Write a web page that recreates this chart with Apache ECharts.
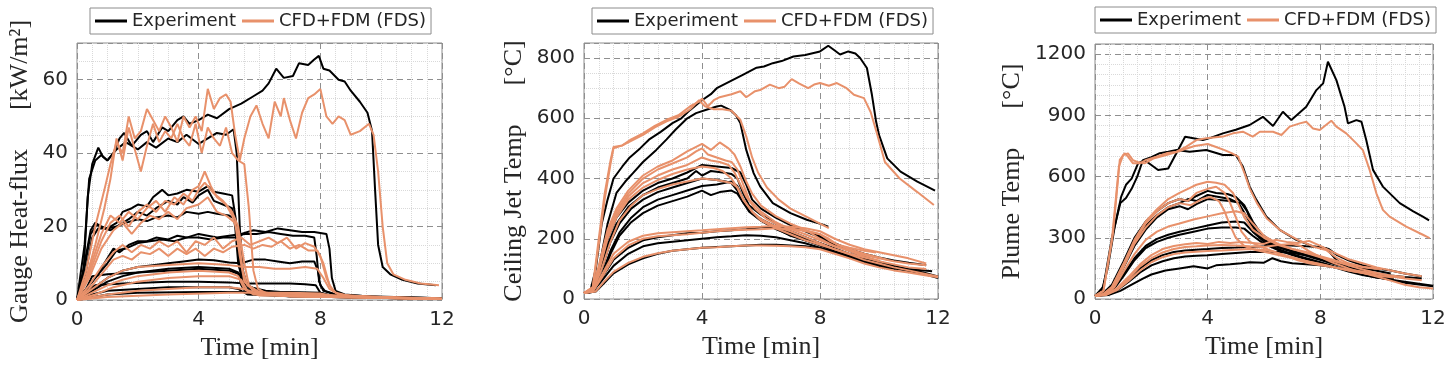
<!DOCTYPE html>
<html><head><meta charset="utf-8">
<script src="https://cdn.jsdelivr.net/npm/echarts@6/dist/echarts.min.js"></script>
<style>html,body{margin:0;padding:0;background:#fff}#c{width:1453px;height:370px}</style>
</head><body><div id="c"></div>
<script>
// ---------- tick labels ----------
const timeTicks = [0, 4, 8, 12];
const heatFluxTicks = [0, 20, 40, 60];
const ceilingTicks = [0, 200, 400, 600, 800];
const plumeTicks = [0, 300, 600, 900, 1200];
const seriesNames = ['Experiment', 'CFD+FDM (FDS)'];

// ---------- Panel 1: Gauge heat flux [kW/m2] vs time [min] ----------
const heatFluxExp = [
 [[0,0],[0.2,5],[0.35,28],[0.5,37],[0.7,41.5],[0.85,39],[1.0,38],[1.2,40],[1.4,44],[1.55,45.5],[1.8,42],[2.1,45],[2.3,46],[2.5,43],[2.8,47],[3.0,46],[3.3,49],[3.5,50],[3.7,48],[4.0,49],[4.3,50.5],[4.6,49.5],[5.0,52],[5.4,53.5],[5.8,55.5],[6.1,57],[6.3,59],[6.55,63],[6.8,60.5],[7.1,61],[7.3,64.5],[7.6,64],[7.8,65.5],[7.95,66.5],[8.1,63],[8.3,62.5],[8.6,60],[8.8,59.5],[9.0,57],[9.3,54],[9.55,51],[9.7,46],[9.8,30],[9.9,15],[10.05,9],[10.3,7],[10.7,5.5],[11.2,4.5],[11.8,4]],
 [[0,0],[0.25,15],[0.4,33],[0.6,38],[0.8,39.5],[1.0,38],[1.3,41],[1.6,43],[2.0,41],[2.3,43],[2.6,41.5],[3.0,44],[3.3,43],[3.6,45],[4.0,42.5],[4.3,44],[4.6,45.5],[4.9,45],[5.15,46.5],[5.25,40],[5.35,20],[5.45,8],[5.6,4],[6.0,2.5],[7,1.8],[8,1.2],[9,0.8],[12,0.4]],
 [[0,0],[0.25,10],[0.45,19],[0.6,21],[0.8,20],[1.0,19.5],[1.3,21],[1.5,24],[1.8,25],[2.0,26],[2.3,25.5],[2.5,28],[2.8,30],[3.0,28.5],[3.3,29],[3.6,30],[4.0,29.5],[4.3,31],[4.5,29.5],[4.8,29],[5.1,28.5],[5.22,22],[5.32,10],[5.45,5],[5.7,3],[6.2,2],[7,1.5],[8,1],[10,0.6],[12,0.3]],
 [[0,0],[0.25,9],[0.45,18],[0.65,20.5],[0.9,19.5],[1.1,19],[1.4,20.5],[1.7,22],[2.0,24],[2.3,23],[2.6,25],[3.0,27],[3.3,26],[3.5,28],[3.8,26.5],[4.0,28.5],[4.3,30],[4.5,27],[4.8,26],[5.1,25],[5.2,20],[5.3,10],[5.45,5],[5.7,3],[6.5,2],[8,1],[12,0.3]],
 [[0,0],[0.3,8],[0.5,17],[0.7,19.5],[1.0,19.5],[1.3,20],[1.6,21],[2.0,22],[2.3,21.5],[2.6,22.5],[3.0,23],[3.3,22.5],[3.6,24],[4.0,23.5],[4.3,24],[4.6,23.5],[5.0,23],[5.2,22],[5.32,12],[5.45,6],[5.7,3.5],[6.2,2.5],[7,2],[8.5,1],[12,0.3]],
 [[0,0],[0.3,3],[0.6,6],[0.9,10],[1.2,14],[1.4,13],[1.7,15],[2.0,16],[2.3,16],[2.6,17],[3.0,16.5],[3.3,17.5],[3.6,17],[4.0,18],[4.3,17.5],[4.6,17],[5.0,17.5],[5.4,18],[5.8,19],[6.2,18.5],[6.6,19.5],[7.0,19],[7.4,18.5],[7.8,18.5],[8.2,18],[8.3,14],[8.38,6],[8.5,2.5],[8.8,1.5],[9.5,1],[12,0.5]],
 [[0,0],[0.5,5],[1.0,10],[1.3,13.5],[1.6,14],[2.0,15.5],[2.4,16],[2.8,16.5],[3.2,16],[3.6,17],[4.0,17],[4.4,16.5],[4.8,17],[5.2,17],[5.5,18],[5.9,18],[6.3,18.5],[6.7,18],[7.1,17.5],[7.5,17.5],[7.8,17],[7.88,12],[7.96,5],[8.1,2.5],[8.5,1.5],[9.5,0.8],[12,0.4]],
 [[0,0],[0.5,3],[1.0,6],[1.5,8],[2.0,9],[2.5,9.5],[3.0,10],[3.5,10.5],[4.0,11],[4.5,10.8],[5.0,10.2],[5.4,10],[5.8,11],[6.2,11],[6.6,10.5],[7.0,10],[7.4,10.5],[7.8,10.5],[7.92,8],[8.0,4],[8.15,2.5],[8.5,1.5],[10,0.8],[12,0.5]],
 [[0,0],[0.5,2.5],[1.0,5],[1.5,6.5],[2.0,7.5],[3.0,8.5],[4.0,9],[5.0,8.5],[5.3,7.5],[5.4,4],[5.55,2],[6,1.5],[7,1],[12,0.3]],
 [[0,0],[0.3,3],[0.5,6.5],[1.0,7],[2.0,7.5],[3.0,8],[4.0,8.5],[5.0,8],[5.35,7],[5.5,3.5],[5.8,1.8],[7,1],[12,0.3]],
 [[0,0],[0.3,2.5],[0.6,4],[1.5,4.5],[3,5],[4,5],[5,4.8],[5.5,4.5],[6,4.5],[7,4.5],[7.5,4.3],[7.85,4],[8.0,2],[8.4,1],[12,0.5]],
 [[0,0],[0.5,1.5],[1,2.5],[2,3],[3,3.5],[4,3.5],[5,3.5],[5.3,3],[5.6,1.5],[7,1],[12,0.3]],
 [[0,0],[1,1.5],[2,2],[4,2.2],[6,2.2],[7,2.2],[8,2],[8.4,1],[9,0.7],[12,0.4]]
];
const heatFluxCfd = [
 [[0,0],[0.3,8],[0.6,20],[0.9,30],[1.1,37],[1.3,43],[1.5,40],[1.7,50],[1.9,44],[2.1,46],[2.3,52],[2.5,49],[2.7,46],[2.9,50],[3.1,47],[3.3,43],[3.5,50],[3.7,47],[3.9,50],[4.1,46],[4.3,57.5],[4.5,52],[4.7,55],[4.9,56],[5.05,54],[5.2,45],[5.35,38],[5.5,44],[5.7,50],[5.9,53],[6.1,48],[6.3,44],[6.5,54],[6.7,50],[6.8,55],[7.0,49],[7.2,44],[7.4,51],[7.6,55],[7.8,56],[8.0,57.5],[8.2,50],[8.4,48],[8.6,50],[8.8,49],[9.0,45],[9.3,46],[9.6,48],[9.75,45],[9.9,35],[10.05,20],[10.2,10],[10.4,7],[10.8,5.5],[11.3,4.5],[11.9,4]],
 [[0,0],[0.3,6],[0.6,15],[0.9,25],[1.1,33],[1.3,44],[1.5,38],[1.7,47],[1.9,41],[2.1,35],[2.3,42],[2.5,48],[2.7,43],[2.9,46],[3.1,44],[3.3,48],[3.5,44],[3.7,42],[3.9,48],[4.1,40],[4.3,47],[4.5,44],[4.7,42],[4.9,47],[5.1,40],[5.3,38],[5.5,37],[5.65,25],[5.8,8],[5.95,3],[6.3,1.5],[7,1],[12,0.3]],
 [[0,0],[0.4,8],[0.8,18],[1.1,23],[1.4,21],[1.7,24],[2.0,22],[2.3,25],[2.6,27],[2.9,24],[3.2,28],[3.5,26],[3.8,30],[4.0,31],[4.2,35],[4.4,31],[4.6,28],[4.9,26],[5.1,23],[5.3,18],[5.45,8],[5.6,4],[6,2],[7,1],[12,0.3]],
 [[0,0],[0.4,7],[0.8,16],[1.1,21],[1.4,23],[1.7,20],[2.0,24],[2.3,26],[2.6,24],[2.9,27],[3.2,26],[3.5,29],[3.8,27],[4.0,30],[4.2,32],[4.5,29],[4.8,27],[5.1,24],[5.3,20],[5.5,10],[5.65,4],[6,2],[12,0.3]],
 [[0,0],[0.4,6],[0.8,14],[1.2,19],[1.5,21],[1.8,18],[2.1,21],[2.4,23],[2.7,22],[3.0,24],[3.3,22],[3.6,25],[4.0,26],[4.3,28],[4.6,24],[4.9,23],[5.2,21],[5.35,12],[5.5,5],[5.8,2.5],[7,1],[12,0.3]],
 [[0,0],[0.4,4],[0.8,9],[1.2,13],[1.5,15],[1.8,13],[2.1,15],[2.4,14],[2.7,16],[3.0,14.5],[3.3,16],[3.6,13],[3.9,16],[4.2,15],[4.5,17],[4.8,14],[5.1,16],[5.4,17],[5.7,15],[6.0,16],[6.3,17],[6.6,15.5],[6.9,17],[7.2,14],[7.5,15.5],[7.8,14.5],[8.0,12],[8.2,6],[8.4,2.5],[8.7,1.2],[10,0.7],[12,0.4]],
 [[0,0],[0.4,3],[0.8,7],[1.2,11],[1.5,12],[1.8,11],[2.1,13],[2.4,12.5],[2.7,14],[3.0,12],[3.3,14],[3.6,12.5],[3.9,14],[4.2,12],[4.5,14],[4.8,13],[5.1,14.5],[5.5,15],[5.8,14],[6.1,15],[6.4,14.5],[6.7,16],[7.0,14],[7.3,15],[7.6,13.5],[7.9,13.5],[8.1,10],[8.3,4],[8.5,2],[9,1],[12,0.4]],
 [[0,0],[0.5,3],[1,6],[1.5,8],[2,9],[3,9.5],[4,10],[5,9.5],[5.5,9],[6,9],[6.5,8.5],[7,8.5],[7.5,9],[7.9,8.5],[8.1,6],[8.3,3],[8.6,1.5],[10,0.6],[12,0.3]],
 [[0,0],[0.5,2],[1,4],[1.5,5.5],[2,6.5],[3,7.5],[4,8],[5,7.5],[5.3,6.5],[5.5,3],[5.8,1.5],[12,0.3]],
 [[0,0],[0.6,1.5],[1.2,3.5],[2,5],[3,6],[4,6.5],[5,6.5],[5.4,5.5],[5.6,2.5],[6,1.2],[12,0.3]],
 [[0,0],[1,1.5],[2,2.5],[3,3],[4,3.5],[5,3.5],[5.5,3],[6,1.5],[12,0.3]],
 [[0,0],[1,0.8],[3,1.5],[5,2],[7,2],[8,1.8],[8.5,1],[12,0.3]]
];

// ---------- Panel 2: Ceiling jet temperature [°C] ----------
const ceilingExp = [
 [[0,20],[0.2,22],[0.4,100],[0.6,250],[0.8,330],[1.0,400],[1.3,440],[1.55,470],[1.9,500],[2.2,529],[2.6,555],[3.0,584],[3.3,600],[3.6,628],[4.0,660],[4.3,680],[4.5,700],[5.0,725],[5.4,745],[5.85,768],[6.1,772],[6.4,783],[6.7,790],[7.1,805],[7.5,810],[8.0,822],[8.28,841],[8.5,825],[8.68,812],[8.96,822],[9.2,815],[9.36,800],[9.59,767],[9.76,678],[9.9,590],[10.0,545],[10.28,467],[10.73,423],[11.3,390],[11.9,360]],
 [[0,20],[0.25,22],[0.5,100],[0.8,250],[1.1,352],[1.4,390],[1.66,418],[2.0,455],[2.45,495],[2.8,530],[3.1,562],[3.5,600],[3.8,617],[4.2,630],[4.5,639],[4.65,642],[4.95,628],[5.15,610],[5.3,584],[5.5,495],[5.75,418],[5.97,374],[6.4,318],[7.0,285],[7.55,263],[8.1,247],[8.28,240]],
 [[0,20],[0.3,30],[0.5,90],[0.8,200],[1.1,270],[1.5,320],[2.0,360],[2.5,385],[3.0,400],[3.5,420],[4.0,445],[4.5,440],[5.0,435],[5.3,420],[5.5,380],[5.7,330],[6.0,300],[6.5,270],[7.0,245],[7.5,225],[8.0,205],[8.5,180],[9.0,160],[9.5,140],[10.0,125],[10.5,110],[11,98],[11.5,88],[12,75]],
 [[0,20],[0.3,30],[0.5,80],[0.8,180],[1.1,250],[1.5,305],[2.0,345],[2.5,370],[3.0,385],[3.5,400],[3.8,425],[4.0,410],[4.3,425],[4.7,420],[5.0,415],[5.2,400],[5.4,350],[5.6,310],[6.0,280],[6.5,250],[7.0,225],[7.5,205],[8.0,185],[8.5,165],[9.0,145],[9.5,128],[10.0,115],[10.6,100]],
 [[0,20],[0.3,28],[0.6,100],[0.9,190],[1.2,250],[1.6,300],[2.0,330],[2.5,355],[3.0,370],[3.5,385],[4.0,400],[4.5,395],[4.8,390],[5.0,385],[5.2,360],[5.4,320],[5.7,285],[6.0,260],[6.5,235],[7.0,210],[7.5,195],[8.0,180],[8.5,160],[9.0,140],[9.5,125],[10.0,110],[10.55,100]],
 [[0,20],[0.3,25],[0.6,80],[0.9,160],[1.2,220],[1.6,270],[2.0,305],[2.5,330],[3.0,345],[3.5,360],[4.0,375],[4.5,380],[5.0,390],[5.2,375],[5.4,330],[5.6,295],[6.0,265],[6.5,240],[7.0,220],[7.5,200],[8.0,185],[8.5,168],[9.0,150],[9.5,135],[10.0,120],[10.5,108],[11,100],[11.8,92]],
 [[0,20],[0.3,25],[0.6,70],[0.9,150],[1.2,210],[1.6,255],[2.0,285],[2.5,310],[3.0,325],[3.5,340],[4.0,360],[4.3,345],[4.6,355],[5.0,360],[5.2,350],[5.4,320],[5.6,290],[6.0,260],[6.5,232],[7.0,212],[7.5,195],[8.0,178],[8.5,160],[9.0,140],[9.5,120],[10,108],[10.6,100]],
 [[0,20],[0.3,25],[0.6,60],[1.0,110],[1.5,150],[2.0,175],[2.5,185],[3.0,190],[3.5,195],[4.0,200],[4.5,205],[5.0,208],[5.5,212],[6.0,210],[6.5,205],[7.0,195],[7.5,185],[8.0,170],[8.5,155],[9.0,140],[9.5,125],[10.0,112],[10.5,102],[11,93],[11.5,84],[12,70]],
 [[0,20],[0.4,25],[0.7,55],[1.0,85],[1.5,115],[2.0,135],[2.5,150],[3.0,160],[3.5,165],[4.0,170],[4.5,173],[5.0,175],[5.5,178],[6.0,180],[6.5,180],[7.0,178],[7.5,175],[8.0,168],[8.5,158],[9.0,145],[9.5,130],[10.0,118],[10.5,105]],
 [[0,20],[0.3,25],[0.6,70],[1.0,130],[1.5,170],[2.0,195],[2.5,205],[3.0,212],[3.5,218],[4.0,220],[4.5,225],[5.0,228],[5.5,232],[6.0,238],[6.5,240],[7.0,235],[7.5,228],[8.0,210],[8.5,185],[9.0,165],[9.5,150],[10.0,138],[10.5,128],[11.0,120],[11.6,112]]
];
const ceilingCfd = [
 [[0,20],[0.3,40],[0.5,200],[0.7,350],[0.9,460],[1.0,505],[1.3,510],[1.6,530],[2.0,550],[2.4,575],[2.8,595],[3.2,610],[3.6,640],[3.9,655],[4.0,665],[4.2,640],[4.4,660],[4.6,670],[5.0,680],[5.3,690],[5.5,670],[5.8,690],[6.0,695],[6.3,712],[6.6,700],[6.8,705],[7.04,730],[7.3,715],[7.6,700],[7.8,712],[8.0,717],[8.3,708],[8.57,717],[8.9,700],[9.15,678],[9.49,667],[9.72,620],[9.95,543],[10.2,455],[10.7,400],[11.3,355],[11.86,312]],
 [[0,20],[0.3,40],[0.5,180],[0.7,330],[0.9,450],[1.0,500],[1.3,510],[1.6,525],[2.0,545],[2.4,570],[2.8,590],[3.2,605],[3.6,630],[3.9,660],[4.1,640],[4.4,630],[4.7,630],[5.0,625],[5.3,595],[5.5,540],[5.7,470],[5.9,420],[6.2,370],[6.6,330],[7.0,300],[7.5,275],[8.0,250],[8.3,235]],
 [[0,20],[0.3,35],[0.5,110],[0.8,230],[1.1,300],[1.5,360],[2.0,410],[2.5,440],[3.0,460],[3.5,490],[4.0,515],[4.3,495],[4.6,520],[4.9,500],[5.1,480],[5.3,440],[5.5,390],[5.7,350],[6.0,310],[6.5,275],[7.0,250],[7.5,230],[8.0,200],[8.5,175],[9.0,160],[9.5,140],[10.0,125],[10.5,115],[11.0,105],[11.6,100]],
 [[0,20],[0.3,32],[0.5,100],[0.8,220],[1.1,290],[1.5,350],[2.0,400],[2.5,430],[3.0,450],[3.5,470],[3.8,490],[4.0,500],[4.2,480],[4.5,470],[4.8,460],[5.0,455],[5.2,430],[5.4,380],[5.6,330],[6.0,290],[6.5,255],[7.0,232],[7.5,215],[8.0,195],[8.5,175],[9.0,160],[9.5,145],[10.0,135],[10.5,125],[11.0,118],[11.6,112]],
 [[0,20],[0.3,30],[0.5,95],[0.8,210],[1.1,280],[1.5,340],[2.0,385],[2.5,410],[3.0,430],[3.5,445],[4.0,470],[4.3,460],[4.6,455],[4.9,445],[5.1,420],[5.3,380],[5.5,340],[5.8,300],[6.2,265],[6.6,245],[7.0,235],[7.5,225],[7.8,220],[8.0,215],[8.3,195],[8.6,180],[9.0,170],[9.5,160],[9.9,154]],
 [[0,20],[0.3,30],[0.5,90],[0.8,200],[1.1,270],[1.5,330],[2.0,370],[2.5,395],[3.0,415],[3.5,430],[4.0,440],[4.4,435],[4.7,425],[5.0,400],[5.2,370],[5.4,330],[5.7,290],[6.0,265],[6.5,240],[7.0,225],[7.5,205],[8.0,185],[8.5,165],[9.0,148],[9.5,130],[10.0,118],[10.5,105],[11,95],[11.5,85],[12,75]],
 [[0,20],[0.3,28],[0.6,100],[0.9,190],[1.2,260],[1.6,310],[2.0,345],[2.5,365],[3.0,380],[3.5,390],[4.0,400],[4.5,395],[5.0,385],[5.2,370],[5.4,330],[5.7,290],[6.0,260],[6.5,235],[7.0,215],[7.5,195],[8.0,180],[8.5,165],[9,150],[9.5,138],[10,128]],
 [[0,20],[0.3,25],[0.6,80],[1.0,150],[1.5,190],[2.0,210],[2.5,218],[3.0,222],[3.5,225],[4.0,228],[4.5,232],[5.0,235],[5.5,238],[6.0,240],[6.5,243],[7.0,240],[7.5,235],[8.0,225],[8.5,200],[9.0,180],[9.5,165],[10.0,155],[10.5,145],[11.0,135],[11.6,118]],
 [[0,20],[0.3,25],[0.6,70],[1.0,135],[1.5,178],[2.0,200],[2.5,208],[3.0,212],[3.5,215],[4.0,220],[4.5,225],[5.0,228],[5.5,230],[6.0,232],[6.5,235],[7.0,232],[7.5,228],[8.0,215],[8.3,200],[8.6,180],[9.0,165],[9.5,150],[10.0,138],[10.3,130]],
 [[0,20],[0.4,25],[0.7,60],[1.0,90],[1.5,120],[2.0,140],[2.5,152],[3.0,160],[3.5,165],[4.0,170],[4.5,172],[5.0,175],[5.5,178],[6.0,178],[6.5,177],[7.0,175],[7.5,172],[8.0,165],[8.5,150],[9.0,135],[9.5,118],[10.0,105],[10.5,95],[11.0,88],[11.5,80],[12,72]]
];

// ---------- Panel 3: Plume temperature [°C] ----------
const plumeExp = [
 [[0,15],[0.22,29],[0.45,150],[0.7,355],[0.93,502],[1.1,560],[1.3,590],[1.53,665],[1.76,681],[2.0,657],[2.24,632],[2.6,640],[2.95,730],[3.2,795],[3.54,787],[3.83,779],[4.1,790],[4.54,812],[5.0,830],[5.49,853],[5.96,893],[6.32,848],[6.67,918],[6.97,877],[7.5,942],[7.86,1024],[8.1,1057],[8.27,1163],[8.57,1073],[8.86,942],[8.98,861],[9.28,877],[9.46,869],[9.63,779],[9.87,633],[10.22,551],[10.82,470],[11.3,430],[11.64,404],[11.86,385]],
 [[0,15],[0.3,60],[0.6,300],[0.9,470],[1.1,495],[1.3,540],[1.5,600],[1.7,680],[2.0,695],[2.3,715],[2.6,722],[2.9,730],[3.36,722],[3.95,730],[4.54,706],[5.0,706],[5.25,649],[5.49,551],[5.73,486],[6.08,404],[6.56,339],[7.15,290],[7.74,258],[8.2,249],[8.57,192],[9.04,143],[9.87,111],[11.05,78],[12,62]],
 [[0,15],[0.3,30],[0.6,70],[1.0,180],[1.4,300],[1.8,380],[2.2,430],[2.6,470],[3.0,490],[3.3,480],[3.6,505],[4.0,530],[4.3,520],[4.7,515],[5.0,500],[5.3,460],[5.6,380],[5.9,320],[6.3,280],[6.8,245],[7.3,225],[7.8,205],[8.3,180],[8.8,160],[9.3,140],[9.8,125],[10.6,100]],
 [[0,15],[0.3,25],[0.6,60],[1.0,160],[1.4,280],[1.8,360],[2.2,410],[2.6,450],[3.0,470],[3.3,490],[3.6,480],[4.0,510],[4.4,500],[4.8,490],[5.1,470],[5.4,400],[5.7,330],[6.0,290],[6.5,255],[7.0,235],[7.5,215],[8.0,195],[8.5,175],[9.0,155],[9.5,140],[10.0,125],[10.5,115],[11.0,108],[11.6,100]],
 [[0,15],[0.3,25],[0.6,55],[1.0,150],[1.4,260],[1.8,340],[2.2,400],[2.6,440],[3.0,455],[3.3,440],[3.6,465],[4.0,490],[4.4,485],[4.8,480],[5.2,470],[5.4,430],[5.6,360],[5.9,300],[6.3,265],[6.8,240],[7.3,220],[7.8,200],[8.3,180],[8.8,160],[9.3,140],[9.8,125],[10.2,115]],
 [[0,15],[0.4,25],[0.7,60],[1.0,120],[1.4,200],[1.8,260],[2.2,295],[2.6,315],[3.0,330],[3.5,345],[4.0,360],[4.5,375],[5.0,380],[5.3,375],[5.6,330],[6.0,280],[6.5,245],[7.0,220],[7.5,200],[8.0,180],[8.5,160],[9.0,140],[9.5,120],[10,105],[10.5,95],[11,85],[11.5,75],[12,65]],
 [[0,15],[0.4,25],[0.7,55],[1.0,110],[1.4,190],[1.8,250],[2.2,280],[2.6,300],[3.0,315],[3.5,330],[4.0,345],[4.5,350],[5.0,350],[5.3,345],[5.6,310],[6.0,270],[6.5,240],[7.0,215],[7.5,195],[8.0,175],[8.5,155],[9.0,135],[9.5,118],[10.0,105],[10.6,95]],
 [[0,15],[0.4,22],[0.8,50],[1.2,100],[1.6,150],[2.0,190],[2.4,215],[2.8,230],[3.2,238],[3.6,242],[4.0,245],[4.5,250],[5.0,252],[5.5,255],[6.0,258],[6.5,265],[7.0,262],[7.5,258],[8.0,255],[8.3,245],[8.6,215],[9.0,190],[9.5,165],[10.0,150],[10.5,140],[11.0,125],[11.6,110]],
 [[0,15],[0.4,22],[0.8,45],[1.2,85],[1.6,130],[2.0,165],[2.4,185],[2.8,200],[3.2,208],[3.6,212],[4.0,215],[4.5,220],[5.0,225],[5.5,230],[6.0,232],[6.5,230],[7.0,225],[7.5,215],[8.0,200],[8.5,180],[9.0,165],[9.5,150],[10.0,138],[10.5,125]],
 [[0,15],[0.5,20],[0.9,40],[1.3,70],[1.7,100],[2.0,120],[2.5,140],[3.0,150],[3.5,160],[4.0,150],[4.3,165],[4.8,170],[5.2,175],[5.5,180],[6.0,178],[6.3,200],[6.6,185],[7.0,175],[7.5,170],[8.0,165],[8.5,155],[9.0,145],[9.5,130],[10.0,115],[10.5,100]]
];
const plumeCfd = [
 [[0,15],[0.3,40],[0.64,323],[0.88,682],[1.05,714],[1.17,698],[1.35,665],[1.59,665],[1.82,682],[2.18,698],[2.53,714],[2.89,722],[3.24,747],[3.6,779],[3.95,788],[4.54,796],[4.9,812],[5.25,820],[5.6,796],[5.85,820],[6.32,820],[6.62,804],[6.91,845],[7.27,861],[7.5,869],[7.74,836],[7.98,828],[8.2,853],[8.39,874],[8.57,845],[8.92,812],[9.28,763],[9.51,730],[9.75,633],[9.99,518],[10.22,437],[10.46,404],[11.05,355],[11.64,315],[11.88,298]],
 [[0,15],[0.3,40],[0.6,290],[0.85,650],[1.0,705],[1.17,714],[1.35,680],[1.55,670],[1.76,665],[2.1,690],[2.5,705],[2.9,720],[3.2,735],[3.54,750],[4.0,760],[4.3,745],[4.6,730],[4.85,715],[5.08,698],[5.31,616],[5.5,540],[5.75,470],[6.1,395],[6.6,335],[7.2,290],[7.8,255],[8.2,240],[8.6,200],[9.0,175],[9.5,158],[10.18,147]],
 [[0,15],[0.3,25],[0.6,60],[1.0,170],[1.4,290],[1.8,380],[2.2,440],[2.6,490],[3.0,520],[3.3,540],[3.6,560],[4.0,575],[4.3,570],[4.6,560],[4.9,520],[5.1,460],[5.3,400],[5.6,340],[6.0,300],[6.5,265],[7.0,245],[7.5,230],[8.0,210],[8.5,190],[9.0,170],[9.5,155],[10.0,148],[10.2,147]],
 [[0,15],[0.3,25],[0.6,55],[1.0,160],[1.4,280],[1.8,370],[2.2,430],[2.6,470],[3.0,490],[3.3,480],[3.6,520],[4.0,540],[4.3,550],[4.6,520],[4.8,470],[5.0,400],[5.2,330],[5.5,280],[6.0,250],[6.5,225],[7.0,205],[7.5,185],[8.0,170],[8.5,155],[9.0,140],[9.5,128],[10.0,115],[10.6,105]],
 [[0,15],[0.3,22],[0.6,50],[1.0,150],[1.4,270],[1.8,350],[2.2,410],[2.6,450],[3.0,470],[3.4,460],[3.8,490],[4.1,500],[4.4,480],[4.6,430],[4.8,360],[5.0,300],[5.3,260],[5.7,240],[6.2,225],[6.7,210],[7.2,195],[7.7,180],[8.2,165],[8.7,150],[9.2,135],[9.7,122],[10.2,112]],
 [[0,15],[0.4,25],[0.7,60],[1.0,130],[1.4,220],[1.8,290],[2.2,330],[2.6,355],[3.0,370],[3.5,390],[4.0,405],[4.5,420],[5.0,430],[5.3,420],[5.6,370],[6.0,310],[6.5,270],[7.0,245],[7.5,225],[8.0,205],[8.5,185],[9.0,165],[9.5,145],[10.0,128],[10.5,112],[11.0,100],[11.6,92]],
 [[0,15],[0.4,22],[0.8,55],[1.2,110],[1.6,170],[2.0,215],[2.4,245],[2.8,260],[3.2,268],[3.6,275],[4.0,270],[4.4,280],[4.8,275],[5.2,280],[5.6,275],[6.0,270],[6.4,290],[6.8,280],[7.2,275],[7.6,285],[8.0,260],[8.3,240],[8.6,220],[9.0,195],[9.5,175],[10.0,155],[10.5,140],[11.0,125],[11.6,112]],
 [[0,15],[0.4,22],[0.8,50],[1.2,100],[1.6,160],[2.0,200],[2.4,228],[2.8,245],[3.2,255],[3.6,258],[4.0,262],[4.5,265],[5.0,262],[5.5,258],[6.0,255],[6.5,265],[7.0,270],[7.3,260],[7.6,235],[8.0,205],[8.5,175],[9.0,150],[9.5,128],[10.0,110],[10.5,90],[11.0,70],[11.5,58],[12,52]],
 [[0,15],[0.4,20],[0.8,45],[1.2,90],[1.6,140],[2.0,180],[2.4,205],[2.8,220],[3.2,228],[3.6,232],[4.0,235],[4.5,238],[5.0,242],[5.5,245],[6.0,240],[6.4,230],[6.8,210],[7.2,190],[7.6,175],[8.0,165],[8.5,155],[9.0,145],[9.5,135],[10.0,125],[10.5,115],[11,108]]
];

// ---------- chart construction ----------
const COLOR_EXP = '#000000';
const COLOR_CFD = '#E8916B';
const panels = [
  {exp: heatFluxExp, cfd: heatFluxCfd, ticks: heatFluxTicks, max: 70, minor: 4,
   yName: 'Gauge Heat-flux      [kW/m\u00B2]', grid: {left: 77, top: 43, width: 365, height: 257},
   legend: {left: 90, top: 8}, nameGap: 44},
  {exp: ceilingExp, cfd: ceilingCfd, ticks: ceilingTicks, max: 850, minor: 4,
   yName: 'Ceiling Jet Temp      [\u00B0C]', grid: {left: 584, top: 43, width: 354, height: 256},
   legend: {left: 592, top: 8}, nameGap: 57},
  {exp: plumeExp, cfd: plumeCfd, ticks: plumeTicks, max: 1250, minor: 6,
   yName: 'Plume Temp      [\u00B0C]', grid: {left: 1095, top: 44, width: 338, height: 255},
   legend: {left: 1095, top: 7}, nameGap: 70}
];

const option = {animation: false, backgroundColor: '#fff', grid: [], xAxis: [], yAxis: [], legend: [], series: []};
const txt = '#262626';
panels.forEach((p, i) => {
  const step = p.ticks[1] - p.ticks[0];
  option.grid.push(Object.assign({show: true, borderColor: '#8c8c8c', borderWidth: 1, backgroundColor: 'transparent', containLabel: false}, p.grid));
  option.xAxis.push({
    type: 'value', gridIndex: i, min: timeTicks[0], max: timeTicks[timeTicks.length - 1], interval: timeTicks[1] - timeTicks[0],
    axisLine: {show: false}, axisTick: {show: false},
    axisLabel: {fontFamily: 'DejaVu Sans', fontSize: 20, color: txt, margin: 10},
    splitLine: {show: true, lineStyle: {color: '#8f8f8f', type: [6, 4], width: 1}},
    minorTick: {show: false, splitNumber: 8},
    minorSplitLine: {show: true, lineStyle: {color: '#d9d9d9', type: 'dotted', width: 1}},
    name: 'Time [min]', nameLocation: 'middle', nameGap: 35,
    nameTextStyle: {fontFamily: 'Liberation Serif', fontSize: 26, color: txt}
  });
  option.yAxis.push({
    type: 'value', gridIndex: i, min: 0, max: p.max, interval: step,
    axisLine: {show: false}, axisTick: {show: false},
    axisLabel: {fontFamily: 'DejaVu Sans', fontSize: 20, color: txt, margin: 9,
      formatter: v => (p.ticks.indexOf(v) >= 0 ? String(v) : '')},
    splitLine: {show: true, lineStyle: {color: '#8f8f8f', type: [6, 4], width: 1}},
    minorTick: {show: false, splitNumber: p.minor},
    minorSplitLine: {show: true, lineStyle: {color: '#d9d9d9', type: 'dotted', width: 1}},
    name: p.yName, nameLocation: 'middle', nameRotate: 90, nameGap: p.nameGap,
    nameTextStyle: {fontFamily: 'Liberation Serif', fontSize: 26, color: txt}
  });
  option.legend.push({
    data: seriesNames, left: p.legend.left, top: p.legend.top, orient: 'horizontal',
    icon: 'rect', padding: [4, 5], itemGap: 6, itemWidth: 32, itemHeight: 3,
    backgroundColor: '#fff', borderColor: '#8c8c8c', borderWidth: 1, borderRadius: 0,
    selectedMode: false,
    textStyle: {fontFamily: 'DejaVu Sans', fontSize: 18, color: txt, lineHeight: 18}
  });
  const mk = (curve, name, color, z) => ({
    type: 'line', name: name, xAxisIndex: i, yAxisIndex: i, data: curve,
    symbol: 'none', showSymbol: false, silent: true, z: z,
    lineStyle: {color: color, width: 2}, itemStyle: {color: color}
  });
  p.exp.forEach(c => option.series.push(mk(c, seriesNames[0], COLOR_EXP, 2)));
  p.cfd.forEach(c => option.series.push(mk(c, seriesNames[1], COLOR_CFD, 3)));
});

const chart = echarts.init(document.getElementById('c'), null, {renderer: 'canvas'});
chart.setOption(option);
</script>
</body></html>
